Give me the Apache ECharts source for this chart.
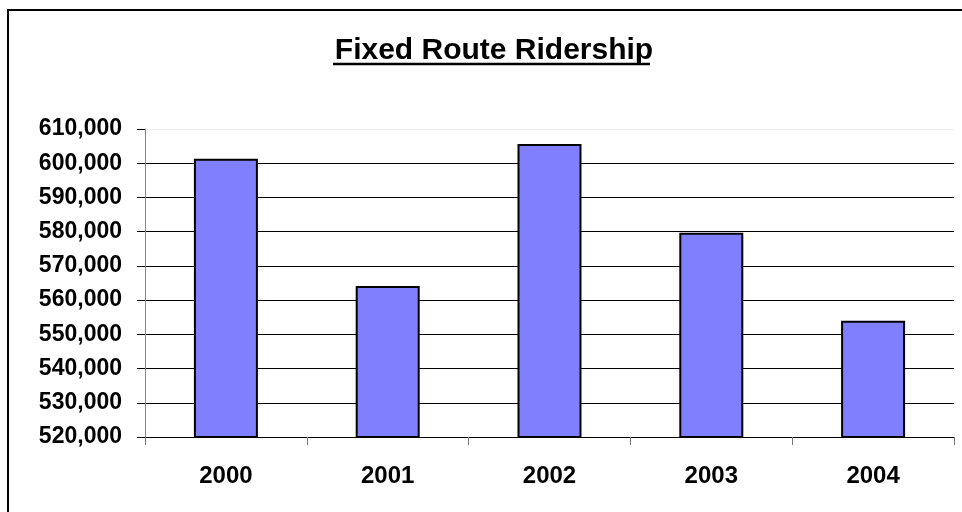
<!DOCTYPE html>
<html>
<head>
<meta charset="utf-8">
<title>Fixed Route Ridership</title>
<script src="https://cdn.jsdelivr.net/npm/echarts@6/dist/echarts.min.js"></script>
<style>
    html, body { margin: 0; padding: 0; background: #fff; }
    #chart { width: 962px; height: 512px; }
</style>
</head>
<body>
<div id="chart"></div>
<script>
    // chart data
    var years = ['2000', '2001', '2002', '2003', '2004'];
    var riders = [601300, 564100, 605600, 579700, 554000];
    var yMin = 520000, yMax = 610000, yStep = 10000;

    var myChart = echarts.init(document.getElementById('chart'));

    // gridlines are black except the top one, which is barely visible
    var gridColors = [];
    for (var v = yMin; v < yMax; v += yStep) gridColors.push('#000');
    gridColors.push('#eeeeee');

    var option = {
        animation: false,
        textStyle: { fontFamily: 'Liberation Sans, Arial, sans-serif' },
        title: {
            text: 'Fixed Route Ridership',
            left: 489,
            textAlign: 'center',
            top: 31,
            textStyle: { fontSize: 30, fontWeight: 'bold', color: '#000' }
        },
        graphic: [
            // outer chart border (right/bottom edges fall outside the picture)
            { type: 'rect', shape: { x: 8, y: 10, width: 970, height: 520 },
              style: { fill: null, stroke: '#000', lineWidth: 2 }, silent: true },
            // title underline
            { type: 'line', shape: { x1: 333, y1: 64, x2: 650, y2: 64 },
              style: { stroke: '#000', lineWidth: 2.5 }, silent: true }
        ],
        grid: { left: 145, right: 8, top: 129, bottom: 75 },
        xAxis: {
            type: 'category',
            data: years,
            axisLine: { lineStyle: { color: '#000', width: 1 } },
            axisTick: { show: true, length: 8, lineStyle: { color: '#777' } },
            axisLabel: { fontSize: 24, fontWeight: 'bold', color: '#000', margin: 27 }
        },
        yAxis: {
            type: 'value',
            min: yMin,
            max: yMax,
            interval: yStep,
            axisLine: { show: true, lineStyle: { color: '#888', width: 1 } },
            axisTick: { show: true, length: 8, lineStyle: { color: '#000' } },
            axisLabel: {
                fontSize: 23, fontWeight: 'bold', color: '#000', margin: 23,
                formatter: function (v) { return v.toLocaleString('en-US'); }
            },
            splitLine: { show: true, lineStyle: { color: gridColors, width: 1 } }
        },
        series: [{
            type: 'bar',
            data: riders,
            barWidth: 64,
            itemStyle: { color: '#8080ff', borderColor: '#000', borderWidth: 2 }
        }]
    };
    myChart.setOption(option);
</script>
</body>
</html>
